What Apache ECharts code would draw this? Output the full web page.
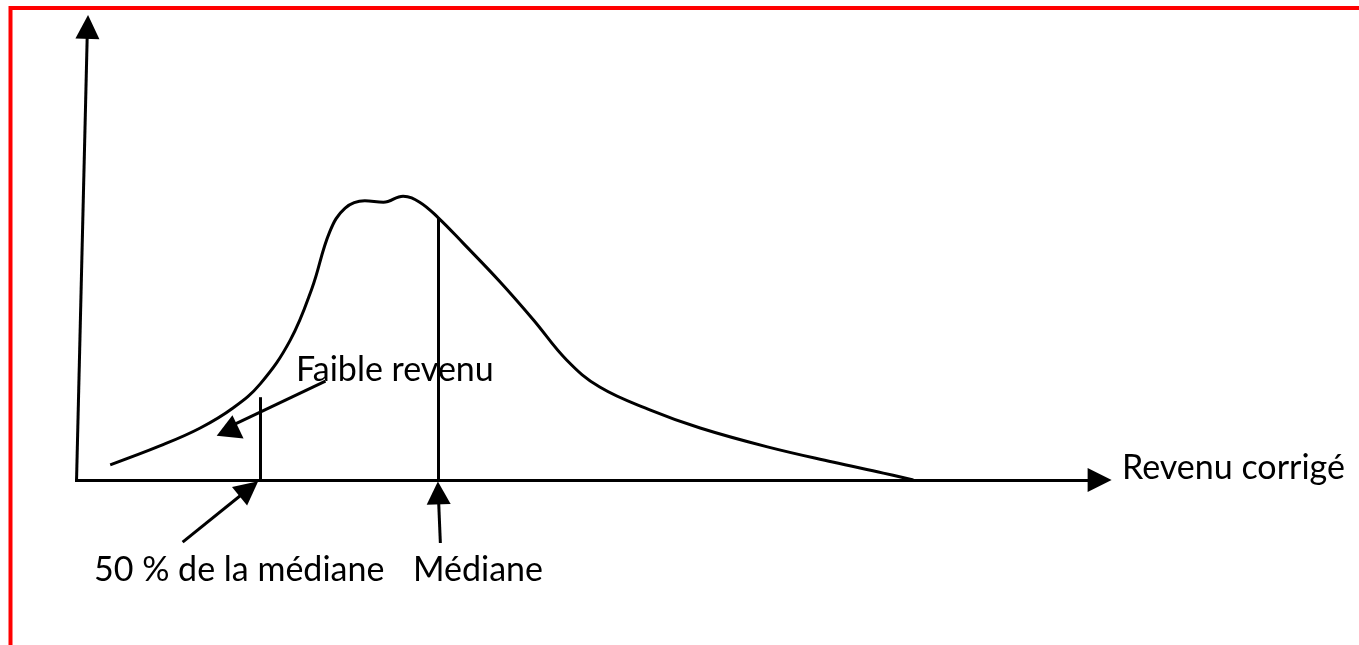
<!DOCTYPE html>
<html>
<head>
<meta charset="utf-8">
<script src="https://cdn.jsdelivr.net/npm/echarts@6/dist/echarts.min.js"></script>
<style>html,body{margin:0;padding:0;background:#fff;}</style>
</head>
<body>
<div id="main" style="width:1359px;height:645px;"></div>
<script type="text/javascript">

// courbe de distribution : revenu corrigé (x) -> effectif (y)
var revenu   = [3.4, 8.2, 12.1, 15.3, 17.9, 20.8, 22.9, 24.6, 26.1, 28.0, 29.8, 31.7, 33.3,
                35.1, 37.5, 41.1, 44.3, 47.5, 50.7, 55.6, 60.4, 66.9, 73.2, 78.1, 81.0];
var effectif = [3.3, 7.4, 11.3, 15.7, 20.9, 30.4, 41.7, 53.9, 59.1, 60.7, 60.4, 61.7, 60.4,
                57.0, 51.5, 43.0, 34.8, 26.1, 20.2, 15.2, 11.3, 7.2, 3.9, 1.5, 0];

// repères
var seuil = 17.9, hauteurSeuil = 18.0;      // 50 % de la médiane
var mediane = 35.1, hauteurMediane = 57.0;  // médiane

// tiges des flèches [départ, arrivée]
var tigeAxeX    = [[0, 0], [99.0, 0]];
var tigeAxeY    = [[0.15, 0], [1.2, 98.4]];
var tigeSeuil   = [[10.4, -13.5], [16.8, -1.9]];
var tigeMediane = [[35.3, -13.7], [35.1, -2.8]];
var tigeFaible  = [[24.2, 21.5], [15.5, 12.2]];

// pointes des flèches : [x, y, rotation]
var pointes = [
  [99.0, 0, -90],     // axe des x
  [1.23, 98.5, -1.5], // axe des y
  [16.8, -1.9, -51],  // 50 % de la médiane
  [35.1, -2.8, 2],    // médiane
  [15.1, 11.7, -6]    // faible revenu
];
var taillesPointes = [[24, 24], [24, 24], [24, 24], [24, 23], [27, 22]];

var courbe = revenu.map(function (x, i) { return [x, effectif[i]]; });

var noir = '#000';
var police = '34px Lato';

function trait(coords) {
  return {
    type: 'lines',
    coordinateSystem: 'cartesian2d',
    symbol: 'none',
    lineStyle: { color: noir, width: 3, opacity: 1 },
    data: [{ coords: coords }],
    silent: true,
    clip: false,
    z: 3
  };
}

function texte(t, x, y) {
  return {
    type: 'text',
    x: x, y: y,
    style: {
      text: t, font: police, fill: noir,
      align: 'left', verticalAlign: 'middle',
      textAlign: 'left', textVerticalAlign: 'middle'
    }
  };
}

var myChart = echarts.init(document.getElementById('main'));

var option = {
  animation: false,
  backgroundColor: '#fff',
  // 1 unité x = 10.35 px, 1 unité y = 4.6 px ; origine en (75, 480)
  grid: { left: 64.65, top: 10.8, width: 1045.35, height: 561.2 },
  xAxis: { type: 'value', min: -1, max: 100, show: false },
  yAxis: { type: 'value', min: -20, max: 102, show: false },
  graphic: [
    {
      type: 'polyline',
      shape: { points: [[10.5, 645], [10.5, 8], [1359, 8]] },
      style: { stroke: '#ff0000', lineWidth: 4, fill: null }
    },
    texte('Faible revenu', 296, 370),
    texte('Revenu corrigé', 1122, 468),
    texte('50 % de la médiane', 94, 570),
    texte('Médiane', 413, 570)
  ],
  series: [
    {
      type: 'line',
      data: courbe,
      smooth: 0.4,
      showSymbol: false,
      lineStyle: { color: noir, width: 3 },
      clip: false,
      z: 3
    },
    trait(tigeAxeX),
    trait(tigeAxeY),
    trait([[seuil, 0], [seuil, hauteurSeuil]]),
    trait([[mediane, 0], [mediane, hauteurMediane]]),
    trait(tigeSeuil),
    trait(tigeMediane),
    trait(tigeFaible),
    {
      type: 'scatter',
      data: pointes.map(function (p, i) {
        return {
          value: [p[0], p[1]],
          symbolRotate: p[2],
          symbolSize: taillesPointes[i]
        };
      }),
      symbol: 'triangle',
      itemStyle: { color: noir, opacity: 1 },
      silent: true,
      clip: false,
      z: 4
    }
  ]
};

myChart.setOption(option);

</script>
</body>
</html>
